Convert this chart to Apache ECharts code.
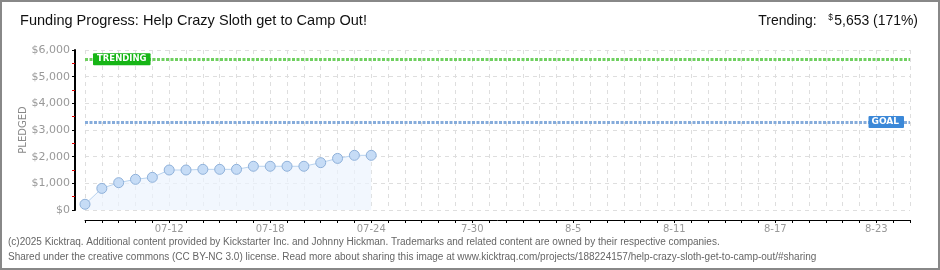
<!DOCTYPE html>
<html><head><meta charset="utf-8">
<script src="https://cdn.jsdelivr.net/npm/echarts@6/dist/echarts.min.js"></script>
<style>html,body{margin:0;padding:0;background:#fff}#c{width:940px;height:270px}</style>
</head><body><div id="c"></div>
<script>
const categories = ['07-07','07-08','07-09','07-10','07-11','07-12','07-13','07-14','07-15','07-16','07-17','07-18','07-19','07-20','07-21','07-22','07-23','07-24','07-25','07-26','07-27','07-28','07-29','07-30','07-31','08-01','08-02','08-03','08-04','08-05','08-06','08-07','08-08','08-09','08-10','08-11','08-12','08-13','08-14','08-15','08-16','08-17','08-18','08-19','08-20','08-21','08-22','08-23','08-24','08-25'];
const pledged = [215,810,1025,1150,1225,1500,1500,1525,1525,1525,1640,1640,1640,1640,1775,1935,2050,2050];
const tickLabels = {'07-12':'07-12','07-18':'07-18','07-24':'07-24','07-30':'7-30','08-05':'8-5','08-11':'8-11','08-17':'8-17','08-23':'8-23'};
const yTicks = [0,1000,2000,3000,4000,5000,6000];
const trending = 5653;
const goal = 3300;
const titleText = 'Funding Progress: Help Crazy Sloth get to Camp Out!';
const trendLabel = 'Trending:';
const trendValue = '5,653 (171%)';
const footer1 = '(c)2025 Kicktraq. Additional content provided by Kickstarter Inc. and Johnny Hickman. Trademarks and related content are owned by their respective companies.';
const footer2 = 'Shared under the creative commons (CC BY-NC 3.0) license. Read more about sharing this image at www.kicktraq.com/projects/188224157/help-crazy-sloth-get-to-camp-out/#sharing';

const chart = echarts.init(document.getElementById('c'), null, {renderer:'canvas'});
chart.setOption({
  animation:false,
  backgroundColor:'#fff',
  grid:{left:85,right:30,top:50,bottom:60,containLabel:false},
  xAxis:{type:'category',data:categories,boundaryGap:false,offset:10,
    axisLine:{onZero:false,lineStyle:{color:'#000',width:1}},
    axisTick:{show:true,interval:0,length:3,lineStyle:{color:'#000'}},
    axisLabel:{interval:(i,v)=>tickLabels[v]!==undefined,formatter:v=>tickLabels[v]||'',color:'#999',fontFamily:'DejaVu Sans, sans-serif',fontSize:10,margin:4},
    splitLine:{show:true,interval:0,lineStyle:{color:'#dedede',type:[4,4]}}
  },
  yAxis:{type:'value',position:'left',min:yTicks[0],max:yTicks[yTicks.length-1],interval:1000,offset:10,
    name:'PLEDGED',nameLocation:'middle',nameGap:47,nameRotate:90,nameMoveOverlap:false,
    nameTextStyle:{color:'#888',fontFamily:'DejaVu Sans, sans-serif',fontSize:10},
    axisLine:{show:true,onZero:false,lineStyle:{color:'#000',width:2}},
    axisTick:{show:true,length:3,lineStyle:{color:'#000'}},
    minorTick:{show:true,splitNumber:2,length:3,lineStyle:{color:'#e00000'}},
    axisLabel:{formatter:v=>'$'+v.toLocaleString('en-US'),color:'#999',fontFamily:'DejaVu Sans, sans-serif',fontSize:11,margin:5},
    splitLine:{show:true,lineStyle:{color:'#dedede',type:[4,4]}}
  },
  series:[{
    type:'line',data:pledged,symbol:'circle',symbolSize:10,
    itemStyle:{color:'#c6dcf6',borderColor:'#8fb1da',borderWidth:1},
    lineStyle:{color:'#b9d3ef',width:1},
    areaStyle:{color:'#ecf4fd'},
    markLine:{silent:true,symbol:'none',data:[
      {yAxis:trending,lineStyle:{color:'#6fd060',width:3,type:[3,1.5]},
        label:{show:true,position:'insideStart',formatter:'TRENDING',distance:[8,0],color:'#fff',fontFamily:'DejaVu Sans, sans-serif',fontSize:8.5,fontWeight:'bold',backgroundColor:'#16b516',padding:[2,4,1,4],borderRadius:1}},
      {yAxis:goal,lineStyle:{color:'#86acdb',width:3,type:[3,1.5]},
        label:{show:true,position:'insideEnd',formatter:'GOAL',distance:[6,0],color:'#fff',fontFamily:'DejaVu Sans, sans-serif',fontSize:9,fontWeight:'bold',backgroundColor:'#3b88d8',padding:[2,5,1,3],borderRadius:1}}
    ]}
  }],
  graphic:[
    {type:'rect',shape:{x:1,y:1,width:938,height:268},style:{fill:null,stroke:'#888',lineWidth:2},z:100},
    {type:'text',x:20,y:13,scaleX:0.97,style:{text:titleText,fill:'#111',font:'15px "Liberation Sans", sans-serif'}},
    {type:'group',right:22,top:13,children:[
      {type:'text',x:0,y:0,scaleX:0.93,style:{text:trendLabel,fill:'#111',font:'15px "Liberation Sans", sans-serif'}},
      {type:'text',x:70,y:0,scaleX:0.93,style:{text:'$',fill:'#111',font:'9px "Liberation Sans", sans-serif'}},
      {type:'text',x:76,y:0,scaleX:0.93,style:{text:trendValue,fill:'#111',font:'15px "Liberation Sans", sans-serif'}}
    ]},
    {type:'text',left:8,top:237,style:{text:footer1,fill:'#666',font:'10px "Liberation Sans", sans-serif'}},
    {type:'text',left:8,top:252,style:{text:footer2,fill:'#666',font:'10px "Liberation Sans", sans-serif'}}
  ]
});
</script></body></html>
